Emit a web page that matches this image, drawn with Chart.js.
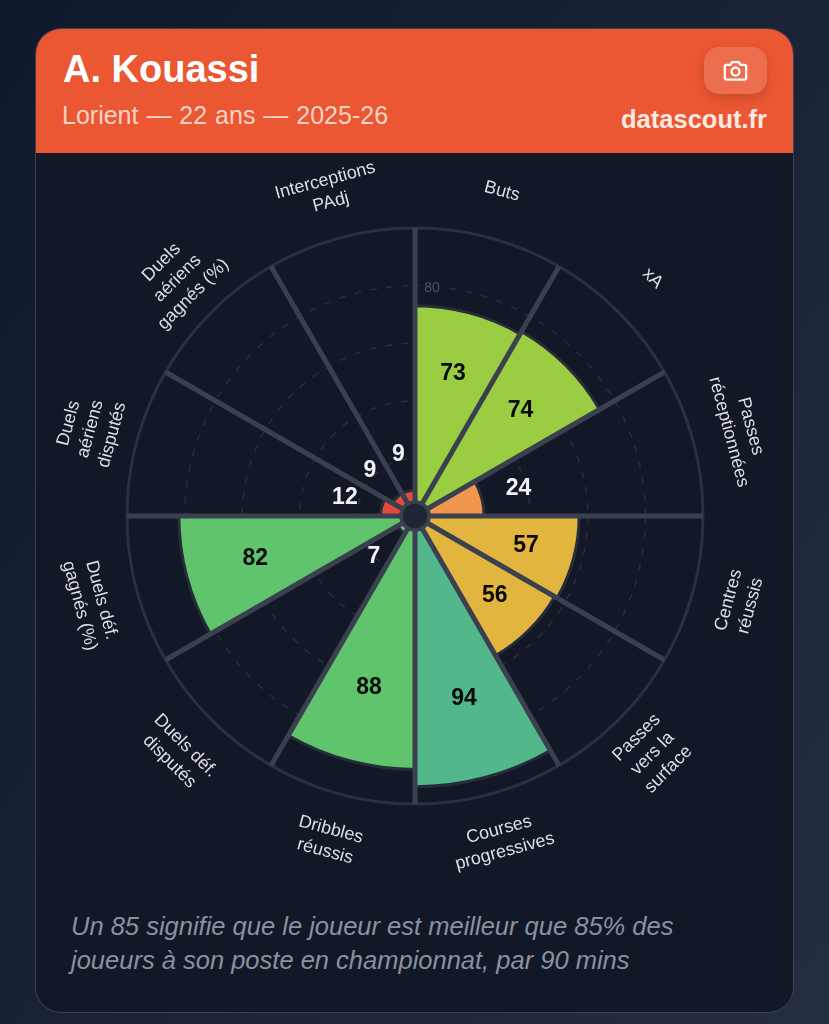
<!DOCTYPE html>
<html lang="fr">
<head>
<meta charset="utf-8">
<title>A. Kouassi</title>
<script src="https://cdn.jsdelivr.net/npm/chart.js@4"></script>
<style>
  html, body { margin: 0; padding: 0; }
  body { width: 829px; height: 1024px; overflow: hidden; position: relative; background: linear-gradient(125deg, #10182b 0%, #1a2236 50%, #252e40 100%); font-family: "Liberation Sans", Arial, sans-serif; }
  .card { position: absolute; left: 35px; top: 28px; width: 757px; height: 983px; background: #131826; border: 1.5px solid #3a4152; border-radius: 26px; overflow: hidden; }
  .head { position: absolute; left: 0; top: 0; width: 100%; height: 124px; background: #ea5732; }
  .name { position: absolute; left: 27px; top: 17px; font-size: 38px; line-height: 46px; font-weight: 700; color: #fff; }
  .sub { position: absolute; left: 26px; top: 70px; font-size: 25px; line-height: 32px; word-spacing: 1px; color: #fbd3c6; }
  .brand { position: absolute; right: 26px; top: 74px; font-size: 25.5px; line-height: 32px; font-weight: 700; color: #fde9e2; }
  .cam { position: absolute; left: 668px; top: 18px; width: 63px; height: 47px; border-radius: 15px; background: rgba(255,255,255,0.14); box-shadow: 0 4px 10px rgba(120,40,20,0.25); display: flex; align-items: center; justify-content: center; }
  .wrap { position: absolute; left: 1px; top: 123px; width: 757px; height: 728px; }
  .note { position: absolute; left: 35px; top: 880px; width: 700px; font-size: 25.5px; line-height: 34px; font-style: italic; color: #8a91a1; white-space: nowrap; }
</style>
</head>
<body>
<div class="card">
  <div class="head">
    <div class="name">A. Kouassi</div>
    <div class="sub">Lorient — 22 ans — 2025-26</div>
    <div class="brand">datascout.fr</div>
    <div class="cam">
      <svg width="27" height="27" viewBox="0 0 24 24" fill="none" stroke="#fff" stroke-width="2" stroke-linecap="round" stroke-linejoin="round"><path d="M4 7h3.500l1.500-2.500h6L16.500 7H20a1.500 1.500 0 0 1 1.500 1.500v10A1.500 1.500 0 0 1 20 20H4a1.500 1.500 0 0 1-1.500-1.500v-10A1.500 1.500 0 0 1 4 7z"/><circle cx="12" cy="13" r="3.500"/></svg>
    </div>
  </div>
  <div class="wrap"><canvas id="radar"></canvas></div>
  <div class="note">Un 85 signifie que le joueur est meilleur que 85% des<br>joueurs à son poste en championnat, par 90 mins</div>
</div>

<script>
// Data, clockwise from 12 o'clock
const categories = [
  ["Buts"], ["xA"], ["Passes", "réceptionnées"], ["Centres", "réussis"],
  ["Passes", "vers la", "surface"], ["Courses", "progressives"], ["Dribbles", "réussis"],
  ["Duels déf.", "disputés"], ["Duels déf.", "gagnés (%)"], ["Duels", "aériens", "disputés"],
  ["Duels", "aériens", "gagnés (%)"], ["Interceptions", "PAdj"]
];
const values = [73, 74, 24, 57, 56, 94, 88, 7, 82, 12, 9, 9];
const barColors = ["#9acd41", "#9acd41", "#f0964f", "#e2b53e", "#e2b53e", "#52b78a", "#5fc46b", "#5fc46b", "#5fc46b", "#e04b3c", "#e04b3c", "#e04b3c"];
const gridTicks = [20, 40, 60, 80];

const SPOKE = "#3a4050";

// tick numbers sit beside the vertical spoke, under the bars
const tickLabels = {
  id: "tickLabels",
  beforeDatasetsDraw(chart) {
    const { ctx, scales: { r } } = chart;
    ctx.save();
    ctx.font = '14px "Liberation Sans"';
    ctx.textAlign = "center";
    ctx.textBaseline = "middle";
    gridTicks.forEach(t => {
      const y = r.yCenter - r.getDistanceFromCenterForValue(t);
      ctx.fillStyle = "#131826";
      ctx.fillRect(r.xCenter + 5, y - 8, 28, 16);
      ctx.fillStyle = "#4a5162";
      ctx.fillText(t, r.xCenter + 17, y + 3);
    });
    ctx.restore();
  }
};

// spokes, hub, value labels and rotated category labels
const overlay = {
  id: "overlay",
  afterDatasetsDraw(chart) {
    const { ctx, scales: { r } } = chart;
    const outer = r.getDistanceFromCenterForValue(100);
    ctx.save();

    ctx.strokeStyle = SPOKE;
    ctx.lineWidth = 5;
    categories.forEach((c, i) => {
      const p = r.getPointPosition(i, outer);
      ctx.beginPath();
      ctx.moveTo(r.xCenter, r.yCenter);
      ctx.lineTo(p.x, p.y);
      ctx.stroke();
    });

    ctx.beginPath();
    ctx.arc(r.xCenter, r.yCenter, 14, 0, Math.PI * 2);
    ctx.fillStyle = "#1e2534";
    ctx.fill();
    ctx.lineWidth = 3.5;
    ctx.stroke();

    ctx.textAlign = "center";
    ctx.textBaseline = "middle";

    values.forEach((v, i) => {
      const d = r.getDistanceFromCenterForValue(v);
      const small = v < 30;
      const p = r.getPointPosition(i + 0.5, small ? d + 38 : d * 0.7);
      ctx.font = 'bold 23px "Liberation Sans"';
      ctx.fillStyle = small ? "#f1f2f5" : "#0a0a0a";
      ctx.fillText(v, p.x, p.y);
    });

    ctx.font = '18px "Liberation Sans"';
    ctx.fillStyle = "#dcdfe6";
    categories.forEach((lines, i) => {
      const deg = (i + 0.5) * 30;
      const p = r.getPointPosition(i + 0.5, 336);
      let rot = deg;
      if (deg > 90 && deg < 270) rot = deg - 180;
      else if (deg >= 270) rot = deg - 360;
      ctx.save();
      ctx.translate(p.x, p.y);
      ctx.rotate(rot * Math.PI / 180);
      lines.forEach((line, k) => {
        ctx.fillText(line, 0, (k - (lines.length - 1) / 2) * 22.5);
      });
      ctx.restore();
    });
    ctx.restore();
  }
};

new Chart(document.getElementById("radar"), {
  type: "polarArea",
  data: {
    labels: categories,
    datasets: [{ data: values, backgroundColor: barColors, borderColor: "#252c3a", borderWidth: 3 }]
  },
  options: {
    responsive: true,
    maintainAspectRatio: false,
    animation: false,
    layout: { padding: 76 },
    plugins: { legend: { display: false }, tooltip: { enabled: false } },
    scales: {
      r: {
        min: 0,
        max: 100,
        startAngle: 0,
        ticks: { display: false, stepSize: 20 },
        pointLabels: { display: false },
        angleLines: { display: false },
        grid: {
          color: ctx => ctx.tick.value === 100 ? "#2a3040" : "#282e3d",
          lineWidth: ctx => ctx.tick.value === 100 ? 3 : 1.5
        },
        border: { dash: ctx => ctx.tick.value === 100 ? [] : [7, 9] }
      }
    }
  },
  plugins: [tickLabels, overlay]
});
</script>
</body>
</html>
